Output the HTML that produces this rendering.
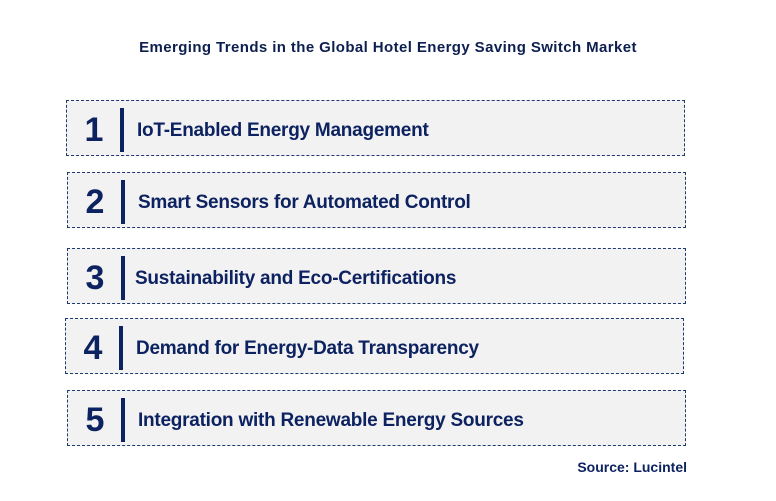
<!DOCTYPE html>
<html><head><meta charset="utf-8"><style>
body{margin:0;width:776px;height:501px;background:#fff;font-family:"Liberation Sans",Arial,sans-serif;position:relative;overflow:hidden}
.t{position:absolute;top:39px;left:0;width:776px;text-align:center;font-weight:bold;font-size:15px;color:#0d1f4f;letter-spacing:0.4px}
.box{position:absolute;width:617px;height:54px;border:1px dashed #1f3a6e;background:#f2f2f2}
.n{position:absolute;left:12px;width:30px;top:0;line-height:58px;text-align:center;font-weight:bold;font-size:34px;color:#0d2260}
.bar{position:absolute;left:53px;top:7px;width:4px;height:44px;background:#0d2260}
.x{position:absolute;left:70px;top:0;line-height:60px;font-weight:bold;font-size:19px;color:#0d2260;letter-spacing:-0.25px}
.s{position:absolute;right:89px;top:459px;font-weight:bold;font-size:14px;color:#0d2260}
</style></head><body>
<div class="t">Emerging Trends in the Global Hotel Energy Saving Switch Market</div>
<div class="box" style="left:66px;top:100px"><div class="n">1</div><div class="bar"></div><div class="x">IoT-Enabled Energy Management</div></div>
<div class="box" style="left:67px;top:172px"><div class="n">2</div><div class="bar"></div><div class="x">Smart Sensors for Automated Control</div></div>
<div class="box" style="left:67px;top:248px"><div class="n">3</div><div class="bar"></div><div class="x" style="left:67px">Sustainability and Eco-Certifications</div></div>
<div class="box" style="left:65px;top:318px"><div class="n">4</div><div class="bar"></div><div class="x">Demand for Energy-Data Transparency</div></div>
<div class="box" style="left:67px;top:390px"><div class="n">5</div><div class="bar"></div><div class="x">Integration with Renewable Energy Sources</div></div>
<div class="s">Source: Lucintel</div>
</body></html>
